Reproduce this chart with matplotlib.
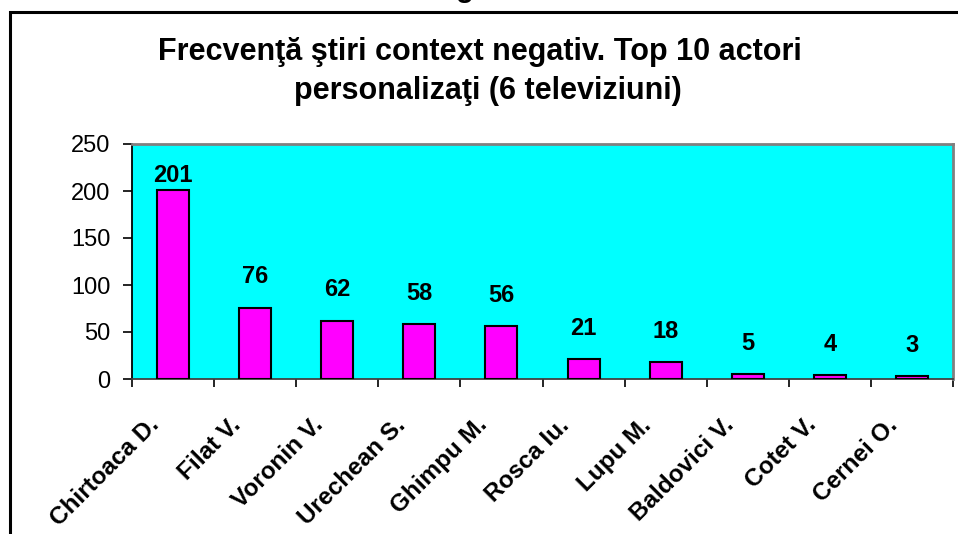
import numpy as np
import matplotlib as mpl
mpl.use("Agg")
import matplotlib.pyplot as plt
from matplotlib.patches import Rectangle
from matplotlib.transforms import ScaledTranslation

# data
actori = ["Chirtoaca D.", "Filat V.", "Voronin V.", "Urechean S.", "Ghimpu M.",
          "Rosca Iu.", "Lupu M.", "Baldovici V.", "Cotet V.", "Cernei O."]
frecventa = [201, 76, 62, 58, 56, 21, 18, 5, 4, 3]
y_ticks = [0, 50, 100, 150, 200, 250]
titlu_1 = "Frecvenţă ştiri context negativ. Top 10 actori"
titlu_2 = "personalizaţi (6 televiziuni)"

mpl.rc('font', family=['Liberation Sans', 'DejaVu Sans'])

W, H = 958, 534
fig = plt.figure(figsize=(W / 100, H / 100), dpi=100)
fig.patch.set_facecolor("white")

# chart frame (cut off at right and bottom in the reference)
fig.add_artist(Rectangle((10 / W, -0.2), 1.5, 1 - 12 / H + 0.2, transform=fig.transFigure,
                         fill=False, edgecolor="black", linewidth=2.2, clip_on=False))

# piece of text above the frame, cut by the top edge
fig.text(465 / W, 1 + 3 / H, "g", ha="center", va="baseline", fontsize=21, fontweight="bold")

fig.text(480 / W, 1 - 60 / H, titlu_1, ha="center", va="baseline", fontsize=22, fontweight="bold")
fig.text(488 / W, 1 - 99 / H, titlu_2, ha="center", va="baseline", fontsize=22, fontweight="bold")

ax = fig.add_axes([132 / W, 1 - 379 / H, (953 - 132) / W, (379 - 144) / H])
ax.set_facecolor("#00FFFF")

x = np.arange(len(actori))
ax.bar(x, frecventa, width=0.39, color="#FF00FF", edgecolor="black", linewidth=1.5, zorder=3)

ax.set_xlim(-0.5, len(actori) - 0.5)
ax.set_ylim(0, 250)

for xi, v in zip(x, frecventa):
    off = 2 if v > 180 else 14
    ax.annotate(str(v), (xi, v), xytext=(0, off), textcoords="offset points",
                ha="center", va="bottom", fontsize=17, fontweight="bold")

ax.set_yticks(y_ticks)
ax.set_yticklabels([str(t) for t in y_ticks], fontsize=17)
ax.tick_params(axis="y", direction="out", length=6.5, width=1.2, pad=9)

ax.set_xticks(np.arange(len(actori) + 1) - 0.5)
ax.set_xticklabels([])
ax.tick_params(axis="x", which="major", direction="out", length=6, width=1.2)
ax.set_xticks(x, minor=True)
ax.set_xticklabels(actori, minor=True, rotation=45, ha="right", va="baseline",
                   rotation_mode="anchor", fontsize=17.5, fontweight="bold")
ax.tick_params(axis="x", which="minor", length=0, pad=34)
shift = ScaledTranslation(-13 / 100, 0, fig.dpi_scale_trans)
for lab in ax.get_xticklabels(minor=True):
    lab.set_transform(lab.get_transform() + shift)

ax.spines["left"].set_color("black")
ax.spines["bottom"].set_color("#404040")
ax.spines["left"].set_linewidth(1.3)
ax.spines["bottom"].set_linewidth(1.3)
for s in ["top", "right"]:
    ax.spines[s].set_color("#808080")
    ax.spines[s].set_linewidth(2)

plt.savefig("out.png", dpi=100)
